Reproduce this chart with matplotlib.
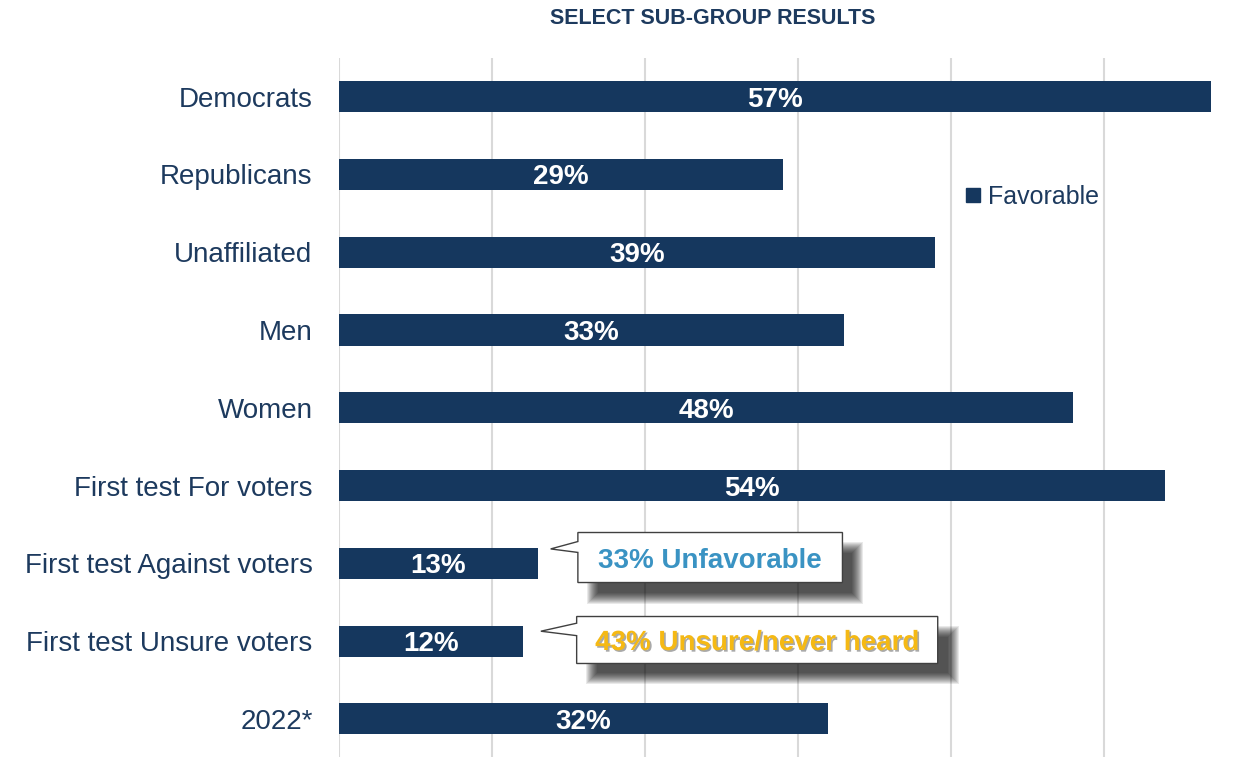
import numpy as np
import matplotlib.pyplot as plt
import matplotlib.patheffects as pe
from matplotlib.patches import Polygon
from matplotlib.lines import Line2D

plt.rcParams['font.family'] = ['Liberation Sans', 'DejaVu Sans']

# data
groups = ['Democrats', 'Republicans', 'Unaffiliated', 'Men', 'Women',
          'First test For voters', 'First test Against voters',
          'First test Unsure voters', '2022*']
favorable = [57, 29, 39, 33, 48, 54, 13, 12, 32]
callout_text = ['33% Unfavorable', '43% Unsure/never heard']

navy = '#15375E'
label_col = '#1D3A5E'

fig = plt.figure(figsize=(12.41, 7.57), dpi=100)
ax = fig.add_axes([339/1241, -0.001, (1226-339)/1241, (758-58)/757])

y = np.arange(len(groups))
bars = ax.barh(y, favorable, height=0.4, color=navy, zorder=3)
for yi, v in zip(y, favorable):
    ax.text(v/2, yi, '%d%%' % v, ha='center', va='center_baseline', color='white',
            fontsize=20, fontweight='bold', zorder=4)

ax.set_ylim(len(groups)-0.5, -0.5)
ax.set_xlim(0, 58)
ax.set_yticks(y)
ax.set_yticklabels(groups, fontsize=20, color=label_col, va='center_baseline')
ax.tick_params(axis='y', length=0, pad=19)
ax.set_xticks([0, 10, 20, 30, 40, 50])
ax.tick_params(axis='x', length=0, labelbottom=False)
ax.grid(axis='x', color='#D9D9D9', linewidth=1.5, zorder=0)
for s in ax.spines.values():
    s.set_visible(False)

# title
fig.text(713/1241, 1-18/757, 'SELECT SUB-GROUP RESULTS', ha='center', va='center',
         fontsize=15.5, fontweight='bold', color=label_col)

# legend
h = Line2D([], [], marker='s', color=navy, linestyle='none', markersize=9.5)
fig.legend([h], ['Favorable'], loc='center left', bbox_to_anchor=(964/1241, 1-197/757),
           frameon=False, fontsize=18, handlelength=0.7, handletextpad=0.25,
           borderpad=0, borderaxespad=0, labelcolor=label_col)

# callouts (box with a left pointer and a soft drop shadow)
def callout(x0, x1, y0, y1, tip, base, text, color, shadow_text=False):
    verts = [(x0, y0), (x1, y0), (x1, y1), (x0, y1), (x0, base[1]), tip, (x0, base[0])]
    # blurred shadow: stacked offset rectangles
    dx, dy = 15/15.3, 15/77.8
    n = 12
    for k in range(n):
        gx = (n/2 - k) * 1.0/15.3
        gy = (n/2 - k) * 1.0/77.8
        ax.add_patch(Polygon([(x0+dx-gx, y0+dy-gy), (x1+dx+gx, y0+dy-gy),
                              (x1+dx+gx, y1+dy+gy), (x0+dx-gx, y1+dy+gy)],
                             closed=True, facecolor='black', edgecolor='none',
                             alpha=0.085, zorder=5))
    ax.add_patch(Polygon(verts, closed=True, facecolor='white', edgecolor='#404040',
                         linewidth=1.0, zorder=6, clip_on=False))
    eff = [pe.withSimplePatchShadow(offset=(1.2, -1.2), shadow_rgbFace='#555555', alpha=0.5)] if shadow_text else None
    ax.text((x0+x1)/2, (y0+y1)/2, text, ha='center', va='center_baseline', color=color,
            fontsize=20, fontweight='bold', zorder=7, path_effects=eff)

callout(15.62, 32.92, 5.604, 6.247, (13.84, 5.815), (5.72, 5.86),
        callout_text[0], '#3A93C3')
callout(15.54, 39.15, 6.684, 7.288, (13.2, 6.873), (6.77, 6.93),
        callout_text[1], '#F5B914', shadow_text=True)

fig.savefig('out.png', dpi=100)
